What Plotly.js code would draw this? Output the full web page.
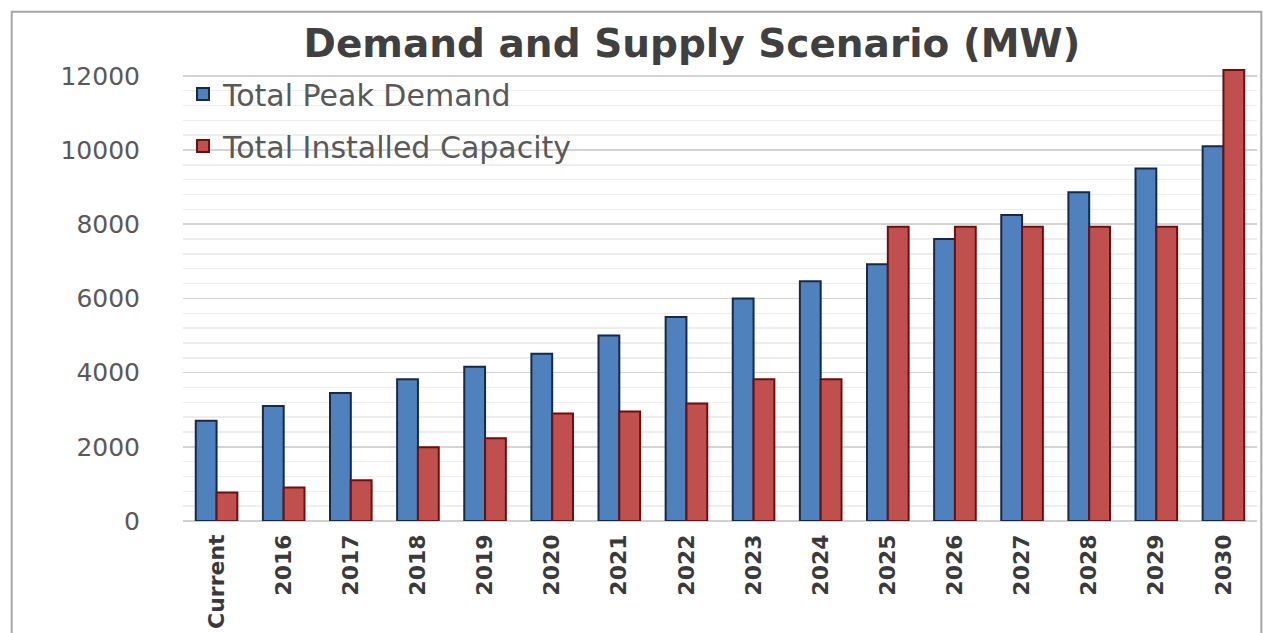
<!DOCTYPE html>
<html>
<head>
<meta charset="utf-8">
<script src="https://cdn.plot.ly/plotly-3.0.1.min.js"></script>
<style>html,body{margin:0;padding:0;background:#fff;}#chart{width:1265px;height:633px;}</style>
</head>
<body>
<div id="chart"></div>
<script>
const categories = ["Current","2016","2017","2018","2019","2020","2021","2022","2023","2024","2025","2026","2027","2028","2029","2030"];
const peakDemand = [2700,3100,3450,3820,4160,4510,5000,5500,6000,6460,6920,7600,8250,8860,9500,10100];
const installedCapacity = [770,900,1100,1990,2230,2900,2950,3170,3820,3820,7930,7930,7930,7930,7930,12160];
const yTicks = [0,2000,4000,6000,8000,10000,12000];

const traces = [
  {type:'bar', name:'Total Peak Demand', x:categories, y:peakDemand, legendgroup:'a',
   marker:{color:'#4F81BD', line:{color:'#17294a', width:2}}},
  {type:'bar', name:'Total Installed Capacity', x:categories, y:installedCapacity, legendgroup:'b',
   marker:{color:'#C0504D', line:{color:'#6e0f0f', width:2}}}
];

const layout = {
  width:1265, height:633,
  margin:{l:183, r:8, t:61, b:112, pad:0},
  paper_bgcolor:'#ffffff', plot_bgcolor:'rgba(0,0,0,0)',
  barmode:'group', bargap:0.38, bargroupgap:0,
  showlegend:true,
  legend:{x:0.0, y:0.985, xanchor:'left', yanchor:'top', bgcolor:'rgba(0,0,0,0)',
    font:{family:'DejaVu Sans', size:30, color:'#595959'}, traceorder:'grouped', tracegroupgap:10,
    itemwidth:30},
  title:{text:'<b>Demand and Supply Scenario (MW)</b>', xref:'container', yref:'container',
    x:0.547, y:0.932, xanchor:'center', yanchor:'middle',
    font:{family:'DejaVu Sans', size:39, color:'#404040'}},
  xaxis:{type:'category', tickangle:-90, showgrid:false, showline:false, ticks:'',
    tickfont:{family:'DejaVu Sans', size:22, color:'#3a3a3a', weight:'bold'},
    ticklabelstandoff:8},
  yaxis:{range:[0,12400], tickvals:yTicks, ticktext:yTicks.map(String), showline:false,
    gridcolor:'#d4d4d4', gridwidth:1.5, zeroline:true, zerolinecolor:'#d0d0d0', zerolinewidth:1.5,
    minor:{dtick:400, tick0:0, showgrid:true, gridcolor:'#eeeeee', gridwidth:1.5},
    tickfont:{family:'DejaVu Sans', size:25, color:'#595959'}, ticklabelstandoff:42},
  shapes:[{type:'rect', xref:'paper', yref:'paper', x0:-0.1595, x1:1.004, y0:-0.3, y1:1.107,
    line:{color:'#a6a6a6', width:2}, fillcolor:'rgba(0,0,0,0)', layer:'below'}]
};

Plotly.newPlot('chart', traces, layout, {displayModeBar:false, staticPlot:true});
</script>
</body>
</html>
